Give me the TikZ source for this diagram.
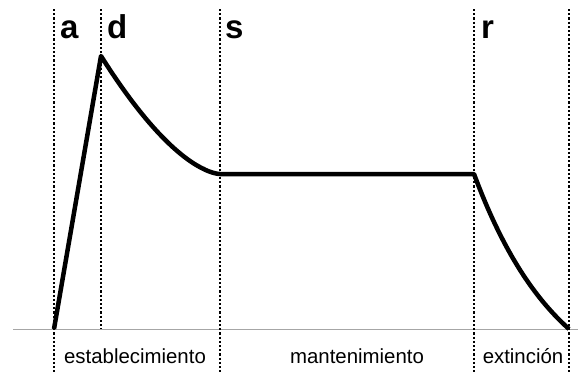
\documentclass[tikz,border=0pt]{standalone}
\usepackage{fontspec}
\setmainfont{Liberation Sans}
\begin{document}
\begin{tikzpicture}[x=1bp,y=-1bp,
  envelope/.style={line width=4.5bp,line join=round},
  guide/.style={line width=2.3bp,dash pattern=on 2.1bp off 2.1bp,black},
  axisline/.style={line width=1bp,gray!70},
  phase/.style={font=\fontsize{33bp}{36bp}\selectfont\bfseries,anchor=base west,inner sep=0pt},
  seg/.style={font=\fontsize{20.4bp}{24bp}\selectfont,anchor=base,inner sep=0pt}]
\useasboundingbox (0,0) rectangle (578,373);
% key points
\coordinate (start) at (54,329);
\coordinate (peak) at (101,56);
\coordinate (sus) at (220,174);
\coordinate (rel) at (474,174);
\coordinate (stop) at (569,329);
% guide line ends
\coordinate (atop) at (54,9);   \coordinate (abot) at (54,373);
\coordinate (dtop) at (101,9);  \coordinate (dbot) at (101,329);
\coordinate (stop1) at (220,9); \coordinate (sbot) at (220,373);
\coordinate (rtop) at (474,9);  \coordinate (rbot) at (474,373);
\coordinate (etop) at (569,9);  \coordinate (ebot) at (569,373);
\coordinate (bl) at (13,329);   \coordinate (br) at (578,329);
% baseline
\draw[axisline] (bl) -- (br);
% dotted guides
\draw[guide] (atop) -- (abot);
\draw[guide] (dtop) -- (dbot);
\draw[guide] (stop1) -- (sbot);
\draw[guide] (rtop) -- (rbot);
\draw[guide] (etop) -- (ebot);
% envelope
\draw[envelope] (start) -- (peak)
  -- plot[domain=0:1,samples=60,variable=\u]
     ({101+119*\u},{174-118*((1-\u)^1.6)})
  -- (rel)
  -- plot[domain=0:1,samples=60,variable=\u]
     ({474+95*\u},{174+155*((1-exp(-1.1*\u))/(1-exp(-1.1)))});
% labels
\node[phase] (la) at (60,38) {a};
\node[phase] (ld) at (107,38) {d};
\node[phase] (ls) at (225,38) {s};
\node[phase] (lr) at (481,38) {r};
\node[seg] (est) at (135,363) {establecimiento};
\node[seg] (man) at (357,363) {mantenimiento};
\node[seg] (ext) at (523,363) {extinción};
\end{tikzpicture}
\end{document}
